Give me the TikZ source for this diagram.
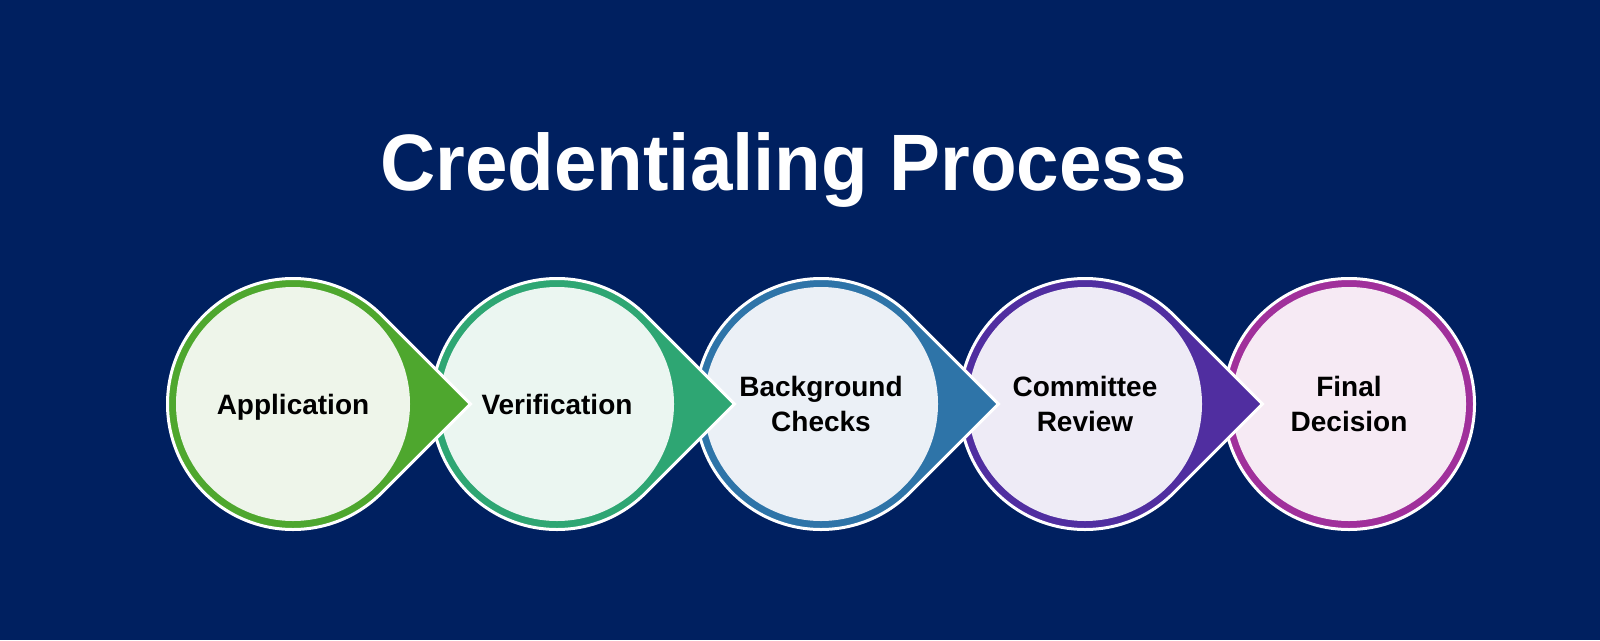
\documentclass[tikz,border=0pt]{standalone}
\usepackage{fontspec}
\setmainfont{Liberation Sans}
\usetikzlibrary{calc}
\definecolor{bg}{RGB}{0,32,96}
\definecolor{cA}{RGB}{78,167,46}
\definecolor{cB}{RGB}{46,166,115}
\definecolor{cC}{RGB}{46,116,168}
\definecolor{cD}{RGB}{80,46,160}
\definecolor{cE}{RGB}{160,48,155}
\definecolor{lA}{RGB}{238,245,234}
\definecolor{lB}{RGB}{235,246,241}
\definecolor{lC}{RGB}{235,240,246}
\definecolor{lD}{RGB}{238,235,246}
\definecolor{lE}{RGB}{246,234,244}
\newcommand\mytear[2]{%
  \filldraw[fill=#2, draw=white, line width=3pt, line join=miter]
    ($(#1)+(45:125.5)$) -- ($(#1)+(0:177.5)$) -- ($(#1)+(-45:125.5)$)
    arc[start angle=-45, end angle=-315, radius=125.5] -- cycle;}
\begin{document}
\begin{tikzpicture}[x=1pt,y=-1pt,
  stepcircle/.style={circle, minimum size=234pt, inner sep=0pt,
    font=\bfseries\fontsize{28}{35}\selectfont, align=center, text=black,
    text height=20pt, text depth=0pt},
  twoline/.style={text height=55pt},
  titletext/.style={anchor=base, text=white, inner sep=0pt,
    font=\bfseries\fontsize{80}{96}\selectfont}]
\fill[bg] (0,0) rectangle (1600,640);
\useasboundingbox (0,0) rectangle (1600,640);
\node[titletext] (title) at (783.5,190) {\scalebox{0.955}[1]{Credentialing Process}};
\coordinate (pE) at (1349,404);
\coordinate (pD) at (1085,404);
\coordinate (pC) at (821,404);
\coordinate (pB) at (557,404);
\coordinate (pA) at (293,404);
\filldraw[fill=cE, draw=white, line width=3pt] (pE) circle[radius=125.5];
\node[stepcircle, twoline, fill=lE] (sE) at (pE) {Final\\Decision};
\mytear{pD}{cD}
\node[stepcircle, twoline, fill=lD] (sD) at (pD) {Committee\\Review};
\mytear{pC}{cC}
\node[stepcircle, twoline, fill=lC] (sC) at (pC) {Background\\Checks};
\mytear{pB}{cB}
\node[stepcircle, fill=lB] (sB) at (pB) {Verification};
\mytear{pA}{cA}
\node[stepcircle, fill=lA] (sA) at (pA) {Application};
\end{tikzpicture}
\end{document}
